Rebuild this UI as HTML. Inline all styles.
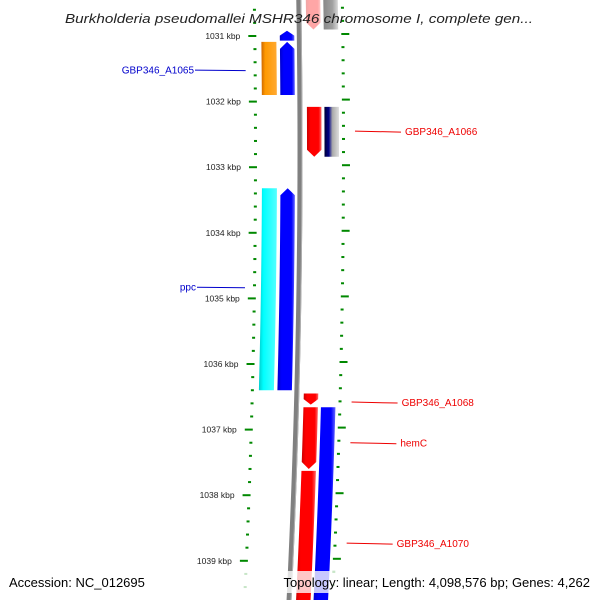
<!DOCTYPE html>
<html><head><meta charset="utf-8"><style>
html,body{margin:0;padding:0;background:#fff;overflow:hidden;}
svg{display:block;font-family:"Liberation Sans",sans-serif;}
</style></head><body>
<svg id="map" width="600" height="600" viewBox="0 0 600 600" xmlns="http://www.w3.org/2000/svg">
<defs>
<linearGradient id="gr" x1="0" x2="1"><stop offset="0" stop-color="#c00"/><stop offset="0.25" stop-color="#f00"/><stop offset="0.8" stop-color="#f00"/><stop offset="1" stop-color="#f66"/></linearGradient>
<linearGradient id="gb" x1="0" x2="1"><stop offset="0" stop-color="#00c"/><stop offset="0.25" stop-color="#00f"/><stop offset="0.8" stop-color="#00f"/><stop offset="1" stop-color="#66f"/></linearGradient>
<linearGradient id="go" x1="0" x2="1"><stop offset="0" stop-color="#c60"/><stop offset="0.25" stop-color="#f90"/><stop offset="1" stop-color="#fa3"/></linearGradient>
<linearGradient id="gc" x1="0" x2="1"><stop offset="0" stop-color="#0cc"/><stop offset="0.25" stop-color="#0ff"/><stop offset="1" stop-color="#5ff"/></linearGradient>
<linearGradient id="gn" x1="0" x2="1"><stop offset="0" stop-color="#003"/><stop offset="0.3" stop-color="#008"/><stop offset="0.55" stop-color="#aaa"/><stop offset="1" stop-color="#ddd"/></linearGradient>
<linearGradient id="gg" x1="0" x2="1"><stop offset="0" stop-color="#777"/><stop offset="0.5" stop-color="#888"/><stop offset="1" stop-color="#bbb"/></linearGradient>
<linearGradient id="gk" x1="0" x2="1"><stop offset="0" stop-color="#555"/><stop offset="0.6" stop-color="#777"/><stop offset="1" stop-color="#ccc"/></linearGradient>
</defs>
<g id="ticks"></g>
<g id="features"></g>
<g id="labels"></g>
<text x="65" y="23" font-size="13" font-style="italic" fill="#222" textLength="468" lengthAdjust="spacingAndGlyphs">Burkholderia pseudomallei MSHR346 chromosome I, complete gen...</text>
<rect x="0" y="571" width="600" height="22" fill="#fff" fill-opacity="0.78"/>
<text x="9" y="587" font-size="13" fill="#000">Accession: NC_012695</text>
<text x="590" y="587" font-size="13" fill="#000" text-anchor="end">Topology: linear; Length: 4,098,576 bp; Genes: 4,262</text>
</svg>
<script>
const majorTicks = [1031,1032,1033,1034,1035,1036,1037,1038,1039];
const minorStep = 0.2;
const viewStart = 1030.6, viewEnd = 1039.8;
const featNames = ["top-red","top-gray","small-blue","GBP346_A1065-orange","blue-1065b","GBP346_A1066","navy-gray","ppc-cyan","blue-ppc2","GBP346_A1068","hemC","GBP346_A1070","blue-1070"];
const featStart = [1030.4,1030.4,1030.92,1031.09,1031.09,1032.08,1032.08,1033.32,1033.32,1036.45,1036.66,1037.63,1036.66];
const featEnd   = [1030.9,1030.9,1031.07,1031.9,1031.9,1032.84,1032.84,1036.4,1036.4,1036.62,1037.6,1039.7,1039.7];
const featTrack = ["r1","r2","l2","l1","l2","r1","r2","l1","l2","r1","r1","r1","r2"];
const featFill = ["url(#gr)","url(#gk)","url(#gb)","url(#go)","url(#gb)","url(#gr)","url(#gn)","url(#gc)","url(#gb)","url(#gr)","url(#gr)","url(#gr)","url(#gb)"];
const featHead = ["down","none","up","none","up","down","none","none","up","down","down","none","none"];
const featOpacity = [0.35,0.7,1,1,1,1,1,1,1,1,1,1,1];
const labelText = ["GBP346_A1065","ppc","GBP346_A1066","GBP346_A1068","hemC","GBP346_A1070"];
const labelKbp = [1031.52,1034.83,1032.45,1036.58,1037.2,1038.73];
const labelSide = ["left","left","right","right","right","right"];
const labelColor = ["#00c","#00c","#e00","#e00","#e00","#e00"];

const NS="http://www.w3.org/2000/svg";
const y = k => 36 + (k-1031)*65.6;
const sh = py => -5.4e-5*(py-150)*(py-150);
const tracks = {l1:[262,277], l2:[280.5,295], r1:[307,321.5], r2:[324.5,339]};
function mk(tag, attrs, parent){const e=document.createElementNS(NS,tag);for(const k in attrs)e.setAttribute(k,attrs[k]);parent.appendChild(e);return e;}
const gT=document.getElementById('ticks'), gF=document.getElementById('features'), gL=document.getElementById('labels');

let d="";
for(let py=-5;py<=605;py+=10){d+=(py===-5?"M":"L")+(300+sh(py)).toFixed(2)+","+py;}
const bb=mk('path',{d:d,stroke:"#808080","stroke-width":5,fill:"none"},gF);


mk('path',{d:d,stroke:"#b0b0b0","stroke-width":1,fill:"none",transform:"translate(2,0)"},gF);

const nT=Math.round((viewEnd-viewStart)/minorStep);
for(let i=0;i<=nT;i++){
  const kk=Math.round((viewStart+i*minorStep)*10)/10;
  const py=y(kk);
  if(py>598) continue;
  const isMaj = majorTicks.some(m=>Math.abs(m-kk)<1e-6);
  const s=sh(py);
  const lt = isMaj ? mk('rect',{x:249+s,y:py-1,width:8,height:2,fill:"#080"},gT) : mk('rect',{x:254+s,y:py-1,width:3,height:2,fill:"#080"},gT);
  
  
  const rt = isMaj ? mk('rect',{x:342+s,y:py-3,width:8,height:2,fill:"#080"},gT) : mk('rect',{x:342+s,y:py-3,width:3,height:2,fill:"#080"},gT);
  
  
  if(isMaj){
    const t=mk('text',{x:241+s,y:py+3,"font-size":8.5,fill:"#222","text-anchor":"end"},gT);
    t.textContent=kk+" kbp";
    
    
  }
}

featNames.forEach((n,i)=>{
  const y1=y(featStart[i]), y2=y(featEnd[i]);
  const [x1,x2]=tracks[featTrack[i]];
  const hd=featHead[i], hl=Math.min(7,(y2-y1)*0.5), mid=(x1+x2)/2;
  const pts=[];
  const steps=Math.max(2,Math.ceil((y2-y1)/20));
  const top = hd==="up" ? y1+hl : y1, bot = hd==="down" ? y2-hl : y2;
  if(hd==="up") pts.push([mid+sh(y1),y1]);
  for(let j=0;j<=steps;j++){const py=top+(bot-top)*j/steps;pts.push([x2+sh(py),py]);}
  if(hd==="down") pts.push([mid+sh(y2),y2]);
  for(let j=steps;j>=0;j--){const py=top+(bot-top)*j/steps;pts.push([x1+sh(py),py]);}
  const p=mk('polygon',{points:pts.map(q=>q[0].toFixed(2)+","+q[1].toFixed(2)).join(" "),fill:featFill[i],"fill-opacity":featOpacity[i]},gF);
  
  
});

labelText.forEach((t,i)=>{
  const py=y(labelKbp[i]), s=sh(py);
  let line, txt;
  if(labelSide[i]==="left"){
    const tx = t==="ppc"?197:195;
    line=mk('line',{x1:tx,y1:py,x2:246+s,y2:py+0.5,stroke:labelColor[i],"stroke-width":1},gL);
    txt=mk('text',{x:tx-1,y:py+3.5,"font-size":10,fill:labelColor[i],"text-anchor":"end"},gL);
  } else {
    line=mk('line',{x1:355+s,y1:py,x2:401+s,y2:py+1,stroke:labelColor[i],"stroke-width":1},gL);
    txt=mk('text',{x:405+s,y:py+4,"font-size":10,fill:labelColor[i]},gL);
  }
  
  
  txt.textContent=t;
  
  
});
</script>
</body></html>
